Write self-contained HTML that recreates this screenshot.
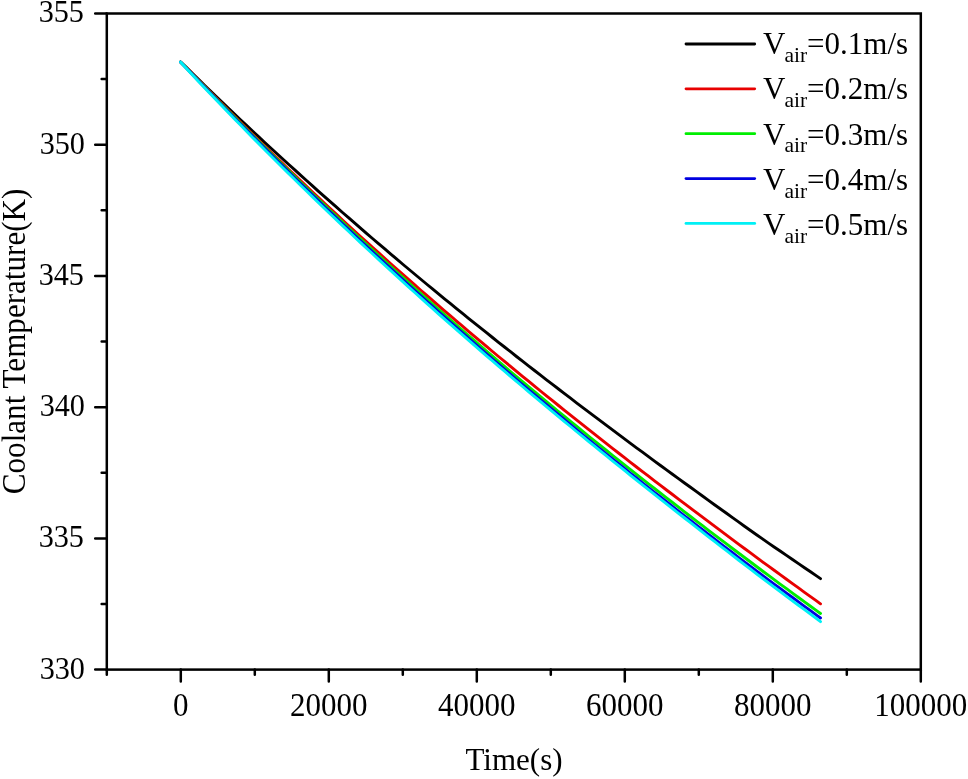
<!DOCTYPE html><html><head><meta charset="utf-8"><style>html,body{margin:0;padding:0;background:#fff;}svg{display:block;}text{font-family:"Liberation Serif","Times New Roman",serif;fill:#000;}</style></head><body>
<svg width="968" height="779" viewBox="0 0 968 779">
<path d="M180.5,62.0 L186.5,67.6 L192.5,73.5 L198.5,79.4 L204.5,85.2 L210.5,91.1 L216.5,96.8 L222.5,102.6 L228.5,108.3 L234.5,114.1 L240.5,119.7 L246.5,125.4 L252.5,131.0 L258.5,136.6 L264.5,142.2 L270.5,147.7 L276.5,153.3 L282.5,158.8 L288.5,164.3 L294.5,169.7 L300.5,175.1 L306.5,180.5 L312.5,185.9 L318.5,191.3 L324.5,196.6 L330.5,201.9 L336.5,207.2 L342.5,212.5 L348.5,217.7 L354.5,222.9 L360.5,228.1 L366.5,233.3 L372.5,238.5 L378.5,243.6 L384.5,248.7 L390.5,253.8 L396.5,258.9 L402.5,264.0 L408.5,269.0 L414.5,274.0 L420.5,279.0 L426.5,284.0 L432.5,288.9 L438.5,293.9 L444.5,298.8 L450.5,303.7 L456.5,308.6 L462.5,313.4 L468.5,318.3 L474.5,323.1 L480.5,327.9 L486.5,332.7 L492.5,337.5 L498.5,342.3 L504.5,347.0 L510.5,351.7 L516.5,356.5 L522.5,361.2 L528.5,365.8 L534.5,370.5 L540.5,375.2 L546.5,379.8 L552.5,384.4 L558.5,389.0 L564.5,393.6 L570.5,398.2 L576.5,402.8 L582.5,407.3 L588.5,411.9 L594.5,416.4 L600.5,420.9 L606.5,425.4 L612.5,429.9 L618.5,434.4 L624.5,438.9 L630.5,443.3 L636.5,447.8 L642.5,452.2 L648.5,456.6 L654.5,461.1 L660.5,465.5 L666.5,469.9 L672.5,474.2 L678.5,478.6 L684.5,483.0 L690.5,487.3 L696.5,491.7 L702.5,496.0 L708.5,500.4 L714.5,504.7 L720.5,509.0 L726.5,513.3 L732.5,517.6 L738.5,521.9 L744.5,526.2 L750.5,530.5 L756.5,534.7 L762.5,538.9 L768.5,543.1 L774.5,547.2 L780.5,551.3 L786.5,555.4 L792.5,559.5 L798.5,563.6 L804.5,567.7 L810.5,571.8 L816.5,575.9 L820.5,578.6" fill="none" stroke="#000000" stroke-width="2.9" stroke-linejoin="round" stroke-linecap="round"/>
<path d="M180.5,62.0 L186.5,67.5 L192.5,73.7 L198.5,79.9 L204.5,86.0 L210.5,92.2 L216.5,98.2 L222.5,104.3 L228.5,110.3 L234.5,116.3 L240.5,122.3 L246.5,128.3 L252.5,134.2 L258.5,140.1 L264.5,146.0 L270.5,151.8 L276.5,157.6 L282.5,163.4 L288.5,169.2 L294.5,174.9 L300.5,180.6 L306.5,186.3 L312.5,192.0 L318.5,197.6 L324.5,203.3 L330.5,208.8 L336.5,214.4 L342.5,220.0 L348.5,225.5 L354.5,231.0 L360.5,236.5 L366.5,241.9 L372.5,247.3 L378.5,252.7 L384.5,258.1 L390.5,263.5 L396.5,268.8 L402.5,274.1 L408.5,279.4 L414.5,284.7 L420.5,290.0 L426.5,295.2 L432.5,300.4 L438.5,305.6 L444.5,310.8 L450.5,315.9 L456.5,321.1 L462.5,326.2 L468.5,331.3 L474.5,336.3 L480.5,341.4 L486.5,346.4 L492.5,351.5 L498.5,356.5 L504.5,361.4 L510.5,366.4 L516.5,371.3 L522.5,376.3 L528.5,381.2 L534.5,386.1 L540.5,391.0 L546.5,395.8 L552.5,400.7 L558.5,405.5 L564.5,410.3 L570.5,415.1 L576.5,419.9 L582.5,424.7 L588.5,429.4 L594.5,434.2 L600.5,438.9 L606.5,443.6 L612.5,448.3 L618.5,453.0 L624.5,457.7 L630.5,462.3 L636.5,467.0 L642.5,471.6 L648.5,476.2 L654.5,480.8 L660.5,485.4 L666.5,490.0 L672.5,494.5 L678.5,499.1 L684.5,503.6 L690.5,508.2 L696.5,512.7 L702.5,517.2 L708.5,521.7 L714.5,526.2 L720.5,530.7 L726.5,535.2 L732.5,539.6 L738.5,544.1 L744.5,548.5 L750.5,552.9 L756.5,557.4 L762.5,561.8 L768.5,566.2 L774.5,570.5 L780.5,574.9 L786.5,579.2 L792.5,583.6 L798.5,587.9 L804.5,592.3 L810.5,596.6 L816.5,600.9 L820.5,603.8" fill="none" stroke="#e80000" stroke-width="2.9" stroke-linejoin="round" stroke-linecap="round"/>
<path d="M180.5,62.0 L186.5,67.9 L192.5,74.2 L198.5,80.4 L204.5,86.6 L210.5,92.7 L216.5,98.9 L222.5,105.0 L228.5,111.1 L234.5,117.1 L240.5,123.2 L246.5,129.2 L252.5,135.2 L258.5,141.1 L264.5,147.0 L270.5,153.0 L276.5,158.8 L282.5,164.7 L288.5,170.6 L294.5,176.4 L300.5,182.2 L306.5,187.9 L312.5,193.7 L318.5,199.4 L324.5,205.1 L330.5,210.8 L336.5,216.4 L342.5,222.1 L348.5,227.7 L354.5,233.3 L360.5,238.8 L366.5,244.4 L372.5,249.9 L378.5,255.4 L384.5,260.9 L390.5,266.4 L396.5,271.8 L402.5,277.2 L408.5,282.6 L414.5,288.0 L420.5,293.4 L426.5,298.7 L432.5,304.0 L438.5,309.3 L444.5,314.6 L450.5,319.9 L456.5,325.1 L462.5,330.3 L468.5,335.6 L474.5,340.7 L480.5,345.9 L486.5,351.1 L492.5,356.2 L498.5,361.3 L504.5,366.4 L510.5,371.5 L516.5,376.5 L522.5,381.6 L528.5,386.6 L534.5,391.6 L540.5,396.6 L546.5,401.6 L552.5,406.6 L558.5,411.5 L564.5,416.4 L570.5,421.3 L576.5,426.2 L582.5,431.1 L588.5,436.0 L594.5,440.8 L600.5,445.7 L606.5,450.5 L612.5,455.3 L618.5,460.1 L624.5,464.8 L630.5,469.6 L636.5,474.4 L642.5,479.1 L648.5,483.8 L654.5,488.5 L660.5,493.2 L666.5,497.9 L672.5,502.5 L678.5,507.2 L684.5,511.8 L690.5,516.5 L696.5,521.1 L702.5,525.7 L708.5,530.3 L714.5,534.8 L720.5,539.4 L726.5,543.9 L732.5,548.5 L738.5,553.0 L744.5,557.5 L750.5,562.0 L756.5,566.5 L762.5,571.0 L768.5,575.4 L774.5,579.9 L780.5,584.3 L786.5,588.7 L792.5,593.1 L798.5,597.5 L804.5,601.9 L810.5,606.2 L816.5,610.6 L820.5,613.5" fill="none" stroke="#00ee00" stroke-width="2.9" stroke-linejoin="round" stroke-linecap="round"/>
<path d="M180.5,62.0 L186.5,68.3 L192.5,74.6 L198.5,80.8 L204.5,87.1 L210.5,93.3 L216.5,99.5 L222.5,105.7 L228.5,111.8 L234.5,117.9 L240.5,124.0 L246.5,130.1 L252.5,136.1 L258.5,142.1 L264.5,148.1 L270.5,154.1 L276.5,160.0 L282.5,165.9 L288.5,171.8 L294.5,177.7 L300.5,183.5 L306.5,189.3 L312.5,195.1 L318.5,200.9 L324.5,206.7 L330.5,212.4 L336.5,218.1 L342.5,223.8 L348.5,229.4 L354.5,235.1 L360.5,240.7 L366.5,246.3 L372.5,251.9 L378.5,257.4 L384.5,262.9 L390.5,268.4 L396.5,273.9 L402.5,279.4 L408.5,284.8 L414.5,290.3 L420.5,295.7 L426.5,301.1 L432.5,306.4 L438.5,311.8 L444.5,317.1 L450.5,322.4 L456.5,327.7 L462.5,332.9 L468.5,338.2 L474.5,343.4 L480.5,348.6 L486.5,353.8 L492.5,359.0 L498.5,364.1 L504.5,369.3 L510.5,374.4 L516.5,379.5 L522.5,384.6 L528.5,389.6 L534.5,394.7 L540.5,399.7 L546.5,404.7 L552.5,409.7 L558.5,414.7 L564.5,419.7 L570.5,424.6 L576.5,429.6 L582.5,434.5 L588.5,439.4 L594.5,444.3 L600.5,449.1 L606.5,454.0 L612.5,458.8 L618.5,463.7 L624.5,468.5 L630.5,473.3 L636.5,478.0 L642.5,482.8 L648.5,487.6 L654.5,492.3 L660.5,497.0 L666.5,501.7 L672.5,506.4 L678.5,511.1 L684.5,515.8 L690.5,520.5 L696.5,525.1 L702.5,529.7 L708.5,534.4 L714.5,539.0 L720.5,543.6 L726.5,548.1 L732.5,552.7 L738.5,557.3 L744.5,561.8 L750.5,566.4 L756.5,570.9 L762.5,575.4 L768.5,579.8 L774.5,584.3 L780.5,588.7 L786.5,593.1 L792.5,597.5 L798.5,601.9 L804.5,606.3 L810.5,610.7 L816.5,615.1 L820.5,618.0" fill="none" stroke="#0000e0" stroke-width="2.9" stroke-linejoin="round" stroke-linecap="round"/>
<path d="M180.5,62.0 L186.5,68.6 L192.5,75.0 L198.5,81.4 L204.5,87.7 L210.5,94.0 L216.5,100.3 L222.5,106.6 L228.5,112.8 L234.5,119.0 L240.5,125.1 L246.5,131.3 L252.5,137.4 L258.5,143.4 L264.5,149.5 L270.5,155.5 L276.5,161.5 L282.5,167.5 L288.5,173.4 L294.5,179.3 L300.5,185.2 L306.5,191.0 L312.5,196.9 L318.5,202.7 L324.5,208.5 L330.5,214.2 L336.5,219.9 L342.5,225.6 L348.5,231.3 L354.5,237.0 L360.5,242.6 L366.5,248.2 L372.5,253.8 L378.5,259.4 L384.5,264.9 L390.5,270.4 L396.5,275.9 L402.5,281.4 L408.5,286.8 L414.5,292.3 L420.5,297.7 L426.5,303.1 L432.5,308.4 L438.5,313.8 L444.5,319.1 L450.5,324.4 L456.5,329.7 L462.5,334.9 L468.5,340.2 L474.5,345.4 L480.5,350.6 L486.5,355.8 L492.5,360.9 L498.5,366.1 L504.5,371.2 L510.5,376.3 L516.5,381.4 L522.5,386.5 L528.5,391.6 L534.5,396.6 L540.5,401.6 L546.5,406.7 L552.5,411.7 L558.5,416.6 L564.5,421.6 L570.5,426.5 L576.5,431.5 L582.5,436.4 L588.5,441.3 L594.5,446.2 L600.5,451.1 L606.5,455.9 L612.5,460.8 L618.5,465.6 L624.5,470.4 L630.5,475.3 L636.5,480.1 L642.5,484.8 L648.5,489.6 L654.5,494.4 L660.5,499.1 L666.5,503.9 L672.5,508.6 L678.5,513.3 L684.5,518.0 L690.5,522.7 L696.5,527.4 L702.5,532.1 L708.5,536.8 L714.5,541.4 L720.5,546.1 L726.5,550.7 L732.5,555.4 L738.5,560.0 L744.5,564.6 L750.5,569.2 L756.5,573.8 L762.5,578.4 L768.5,582.9 L774.5,587.4 L780.5,591.8 L786.5,596.3 L792.5,600.8 L798.5,605.3 L804.5,609.7 L810.5,614.2 L816.5,618.6 L820.5,621.6" fill="none" stroke="#00f0f5" stroke-width="2.9" stroke-linejoin="round" stroke-linecap="round"/>
<rect x="106.8" y="13.5" width="814.0" height="656.1" fill="none" stroke="#000" stroke-width="2.5"/>
<path d="M106.80,669.6 V674.85 M180.80,669.6 V681.45 M254.80,669.6 V674.85 M328.80,669.6 V681.45 M402.80,669.6 V674.85 M476.80,669.6 V681.45 M550.80,669.6 V674.85 M624.80,669.6 V681.45 M698.80,669.6 V674.85 M772.80,669.6 V681.45 M846.80,669.6 V674.85 M920.80,669.6 V681.45 M106.8,669.60 H95.20 M106.8,603.99 H101.65 M106.8,538.38 H95.20 M106.8,472.77 H101.65 M106.8,407.16 H95.20 M106.8,341.55 H101.65 M106.8,275.94 H95.20 M106.8,210.33 H101.65 M106.8,144.72 H95.20 M106.8,79.11 H101.65 M106.8,13.50 H95.20" stroke="#000" stroke-width="2.5" stroke-linecap="round" fill="none"/>
<text transform="translate(85,678.5) scale(0.96,1.03)" font-size="31.5" text-anchor="end">330</text>
<text transform="translate(84,547.3) scale(0.96,1.03)" font-size="31.5" text-anchor="end">335</text>
<text transform="translate(85,416.1) scale(0.96,1.03)" font-size="31.5" text-anchor="end">340</text>
<text transform="translate(84,284.8) scale(0.96,1.03)" font-size="31.5" text-anchor="end">345</text>
<text transform="translate(85,153.6) scale(0.96,1.03)" font-size="31.5" text-anchor="end">350</text>
<text transform="translate(84,22.4) scale(0.96,1.03)" font-size="31.5" text-anchor="end">355</text>
<text transform="translate(180.8,715.6) scale(0.985,1.045)" font-size="31.5" text-anchor="middle">0</text>
<text transform="translate(328.8,715.6) scale(0.985,1.045)" font-size="31.5" text-anchor="middle">20000</text>
<text transform="translate(476.8,715.6) scale(0.985,1.045)" font-size="31.5" text-anchor="middle">40000</text>
<text transform="translate(624.8,715.6) scale(0.985,1.045)" font-size="31.5" text-anchor="middle">60000</text>
<text transform="translate(772.8,715.6) scale(0.985,1.045)" font-size="31.5" text-anchor="middle">80000</text>
<text transform="translate(920.8,715.6) scale(0.985,1.045)" font-size="31.5" text-anchor="middle">100000</text>
<text transform="translate(514,769.5) scale(0.985,1)" font-size="31.5" text-anchor="middle">Time(s)</text>
<text transform="translate(25.0,341.4) rotate(-90) scale(0.988,1.06)" font-size="31.5" text-anchor="middle">Coolant Temperature(K)</text>
<path d="M686,44.00 H754.7" stroke="#000000" stroke-width="2.8" stroke-linecap="round"/>
<text x="763" y="54.0" font-size="31">V<tspan font-size="21.5" dx="-0.8" dy="7.6">air</tspan><tspan dy="-7.6" dx="-0.2">=0.1m/s</tspan></text>
<path d="M686,88.85 H754.7" stroke="#e80000" stroke-width="2.8" stroke-linecap="round"/>
<text x="763" y="99.3" font-size="31">V<tspan font-size="21.5" dx="-0.8" dy="7.6">air</tspan><tspan dy="-7.6" dx="-0.2">=0.2m/s</tspan></text>
<path d="M686,133.70 H754.7" stroke="#00ee00" stroke-width="2.8" stroke-linecap="round"/>
<text x="763" y="144.6" font-size="31">V<tspan font-size="21.5" dx="-0.8" dy="7.6">air</tspan><tspan dy="-7.6" dx="-0.2">=0.3m/s</tspan></text>
<path d="M686,178.55 H754.7" stroke="#0000e0" stroke-width="2.8" stroke-linecap="round"/>
<text x="763" y="189.9" font-size="31">V<tspan font-size="21.5" dx="-0.8" dy="7.6">air</tspan><tspan dy="-7.6" dx="-0.2">=0.4m/s</tspan></text>
<path d="M686,223.40 H754.7" stroke="#00f0f5" stroke-width="2.8" stroke-linecap="round"/>
<text x="763" y="235.2" font-size="31">V<tspan font-size="21.5" dx="-0.8" dy="7.6">air</tspan><tspan dy="-7.6" dx="-0.2">=0.5m/s</tspan></text>
</svg></body></html>
